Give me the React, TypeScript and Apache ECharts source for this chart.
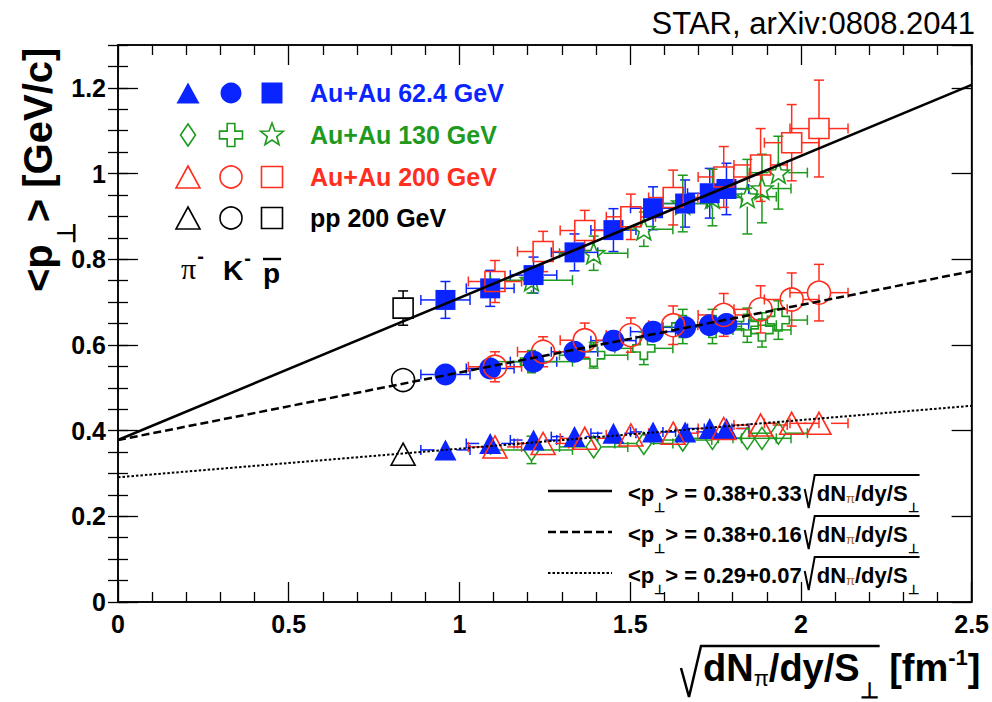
import React, { useEffect, useRef } from "react";
import * as echarts from "echarts";

// ---------- colours / fonts ----------
const BLUE = "#0a24ff";
const GREEN = "#1e9a1e";
const RED = "#ff2e1e";
const BLACK = "#000000";
const FONT = "'Liberation Sans', Arial, Helvetica, sans-serif";
const SERIF = "'Liberation Serif', 'DejaVu Serif', serif";

// ---------- data: x = sqrt(dN_pi/dy / S_perp) [fm^-1] ----------
const x624 = [0.959, 1.09, 1.217, 1.337, 1.451, 1.567, 1.661, 1.733, 1.782];
const x130 = [1.211, 1.393, 1.54, 1.654, 1.741, 1.843, 1.886, 1.934];
const x200 = [1.104, 1.245, 1.367, 1.502, 1.626, 1.774, 1.882, 1.973, 2.053];
const xPP = [0.835];

const xErr624 = [0.072, 0.07, 0.068, 0.068, 0.066, 0.066, 0.065, 0.065, 0.065];
const xErr130 = [0.12, 0.1, 0.085, 0.085, 0.085, 0.085, 0.085, 0.085];
const xErr200 = [0.078, 0.075, 0.072, 0.072, 0.072, 0.075, 0.078, 0.08, 0.085];
const xErrPP = [0];

// pi-  <pT> [GeV/c]
const piY624 = [0.355, 0.37, 0.378, 0.386, 0.394, 0.397, 0.397, 0.405, 0.405];
const piY130 = [0.355, 0.362, 0.37, 0.378, 0.382, 0.382, 0.382, 0.394];
const piY200 = [0.362, 0.37, 0.382, 0.39, 0.394, 0.405, 0.413, 0.417, 0.417];
const piYPP = [0.345];
const piE624 = [0.01, 0.01, 0.01, 0.01, 0.01, 0.01, 0.01, 0.01, 0.01];
const piE130 = [0.032, 0.02, 0.02, 0.02, 0.02, 0.02, 0.02, 0.02];
const piE200 = [0.012, 0.012, 0.012, 0.012, 0.012, 0.012, 0.012, 0.012, 0.012];
const piEPP = [0.01];

// K-
const kY624 = [0.531, 0.545, 0.561, 0.584, 0.61, 0.631, 0.641, 0.646, 0.649];
const kY130 = [0.561, 0.576, 0.592, 0.643, 0.643, 0.646, 0.635, 0.658];
const kY200 = [0.549, 0.584, 0.611, 0.623, 0.646, 0.67, 0.683, 0.706, 0.722];
const kYPP = [0.518];
const kE624 = [0.012, 0.012, 0.013, 0.014, 0.015, 0.016, 0.017, 0.017, 0.018];
const kE130 = [0.02, 0.03, 0.038, 0.04, 0.04, 0.04, 0.04, 0.045];
const kE200 = [0.035, 0.035, 0.04, 0.04, 0.045, 0.05, 0.055, 0.062, 0.066];
const kEPP = [0.015];

// anti-proton
const pY624 = [0.705, 0.732, 0.763, 0.816, 0.868, 0.919, 0.93, 0.954, 0.964];
const pY130 = [0.751, 0.814, 0.87, 0.93, 0.944, 0.946, 0.965, 1.002];
const pY200 = [0.748, 0.818, 0.867, 0.899, 0.944, 0.992, 1.02, 1.072, 1.105];
const pYPP = [0.686];
const pE624 = [0.043, 0.042, 0.042, 0.043, 0.05, 0.05, 0.055, 0.058, 0.06];
const pE130 = [0.03, 0.04, 0.04, 0.066, 0.066, 0.087, 0.08, 0.085];
const pE200 = [0.049, 0.047, 0.047, 0.053, 0.064, 0.071, 0.085, 0.089, 0.113];
const pEPP = [0.04];

// fit lines (end points)
const fitX = [0, 2.5];
const fitSolid = [0.378, 1.207];
const fitDashed = [0.378, 0.772];
const fitDotted = [0.291, 0.458];

const fitLabels = [
  { a: "0.38", b: "0.33", dash: [] as number[], w: 2.5 },
  { a: "0.38", b: "0.16", dash: [8, 4], w: 2.5 },
  { a: "0.29", b: "0.07", dash: [2.5, 2], w: 2 },
];

const legendRows = [
  { label: "Au+Au 62.4 GeV", color: BLUE, filled: true, kind: "624" },
  { label: "Au+Au 130 GeV", color: GREEN, filled: false, kind: "130" },
  { label: "Au+Au 200 GeV", color: RED, filled: false, kind: "200" },
  { label: "pp 200 GeV", color: BLACK, filled: false, kind: "pp" },
];

// ---------- symbol shapes ----------
const starPts = (cx: number, cy: number, R: number, r: number) =>
  Array.from({ length: 10 }, (_, k) => {
    const ang = -Math.PI / 2 + (k * Math.PI) / 5;
    const rr = k % 2 === 0 ? R : r;
    return [cx + rr * Math.cos(ang), cy + rr * Math.sin(ang)];
  });
const crossPts = (cx: number, cy: number, s: number) => {
  const a = s / 2;
  const b = s / 6;
  return [
    [cx - b, cy - a], [cx + b, cy - a], [cx + b, cy - b], [cx + a, cy - b],
    [cx + a, cy + b], [cx + b, cy + b], [cx + b, cy + a], [cx - b, cy + a],
    [cx - b, cy + b], [cx - a, cy + b], [cx - a, cy - b], [cx - b, cy - b],
  ];
};
const toPath = (pts: number[][]) =>
  "path://M" + pts.map((p) => `${p[0].toFixed(2)},${p[1].toFixed(2)}`).join("L") + "Z";
const STAR_SYM = toPath(starPts(50, 50, 50, 21));
const CROSS_SYM = toPath(crossPts(50, 50, 100));

// ---------- text measuring ----------
let _ctx: CanvasRenderingContext2D | null = null;
function tw(text: string, size: number, weight: string, family: string) {
  if (!_ctx) _ctx = document.createElement("canvas").getContext("2d");
  if (!_ctx) return text.length * size * 0.55;
  _ctx.font = `${weight} ${size}px ${family}`;
  return _ctx.measureText(text).width;
}
type Piece = { t: string; size: number; weight?: string; family?: string; dy?: number; dx?: number; color?: string };
function chain(pieces: Piece[], x0: number, y0: number, color = BLACK) {
  let x = x0;
  const els: any[] = [];
  for (const p of pieces) {
    const weight = p.weight ?? "bold";
    const family = p.family ?? FONT;
    x += p.dx ?? 0;
    els.push({
      type: "text",
      x,
      y: y0 + (p.dy ?? 0),
      silent: true,
      style: {
        text: p.t,
        fill: p.color ?? color,
        fontSize: p.size,
        fontWeight: weight,
        fontFamily: family,
        align: "left",
        verticalAlign: "middle",
      },
    });
    x += tw(p.t, p.size, weight, family);
  }
  return { els, end: x };
}

// ---------- error bars ----------
function mkRender(color: string, gx: number, gy: number) {
  return (_params: any, api: any) => {
    const x = api.value(0);
    const y = api.value(1);
    const c = api.coord([x, y]);
    const xl = api.coord([api.value(2), y])[0];
    const xr = api.coord([api.value(3), y])[0];
    const yl = api.coord([x, api.value(4)])[1];
    const yh = api.coord([x, api.value(5)])[1];
    const st = { stroke: color, lineWidth: 1.5 };
    const cap = 5;
    const ch: any[] = [];
    const ln = (x1: number, y1: number, x2: number, y2: number) =>
      ch.push({ type: "line", shape: { x1, y1, x2, y2 }, style: st });
    if (c[0] - xl > gx) {
      ln(xl, c[1], c[0] - gx, c[1]);
      ln(xl, c[1] - cap, xl, c[1] + cap);
    }
    if (xr - c[0] > gx) {
      ln(c[0] + gx, c[1], xr, c[1]);
      ln(xr, c[1] - cap, xr, c[1] + cap);
    }
    if (yl - c[1] > gy) {
      ln(c[0], c[1] + gy, c[0], yl);
      ln(c[0] - cap, yl, c[0] + cap, yl);
    }
    if (c[1] - yh > gy) {
      ln(c[0], yh, c[0], c[1] - gy);
      ln(c[0] - cap, yh, c[0] + cap, yh);
    }
    return { type: "group", children: ch };
  };
}
function eb(xs: number[], xe: number[], ys: number[], ye: number[], color: string, gx: number, gy: number) {
  return {
    type: "custom",
    silent: true,
    z: 2,
    data: xs.map((x, i) => [x, ys[i], x - xe[i], x + xe[i], ys[i] - ye[i], ys[i] + ye[i]]),
    encode: { x: [0, 2, 3], y: [1, 4, 5] },
    renderItem: mkRender(color, gx, gy),
  };
}
function sc(xs: number[], ys: number[], symbol: string, size: any, color: string, filled: boolean) {
  return {
    type: "scatter",
    silent: true,
    z: 3,
    symbol,
    symbolSize: size,
    data: xs.map((x, i) => [x, ys[i]]),
    itemStyle: filled
      ? { color, borderWidth: 0, opacity: 1 }
      : { color: "rgba(0,0,0,0)", borderColor: color, borderWidth: 1.6, opacity: 1 },
  };
}

// ---------- legend graphics ----------
function legendMarker(kind: string, col: number, cx: number, cy: number, color: string, filled: boolean): any {
  const style = filled ? { fill: color, stroke: color, lineWidth: 0 } : { fill: "none", stroke: color, lineWidth: 1.6 };
  if (kind === "130") {
    if (col === 0) return { type: "polygon", shape: { points: [[cx, cy - 11], [cx + 7.5, cy], [cx, cy + 11], [cx - 7.5, cy]] }, style };
    if (col === 1) return { type: "polygon", shape: { points: crossPts(cx, cy, 23) }, style };
    return { type: "polygon", shape: { points: starPts(cx, cy, 12, 5) }, style };
  }
  const s = filled ? 21 : 22;
  if (col === 0) return { type: "polygon", shape: { points: [[cx, cy - s / 2], [cx + s / 2 + 1, cy + s / 2], [cx - s / 2 - 1, cy + s / 2]] }, style };
  if (col === 1) return { type: "circle", shape: { cx, cy, r: s / 2 }, style };
  return { type: "rect", shape: { x: cx - 10.5, y: cy - 10.5, width: 21, height: 21 }, style };
}

function buildGraphics() {
  const g: any[] = [];
  const cols = [188, 231, 272];
  const rows = [93, 135, 177, 218];
  legendRows.forEach((r, ri) => {
    cols.forEach((cx, ci) => g.push({ ...legendMarker(r.kind, ci, cx, rows[ri], r.color, r.filled), silent: true }));
    g.push({
      type: "text",
      x: 310,
      y: rows[ri],
      silent: true,
      style: { text: r.label, fill: r.color, fontSize: 25, fontWeight: "bold", fontFamily: FONT, align: "left", verticalAlign: "middle" },
    });
  });
  // particle labels
  g.push(...chain([{ t: "π", size: 30, weight: "normal", family: SERIF }, { t: "-", size: 20, dy: -12, dx: 1 }], 181, 268).els);
  g.push(...chain([{ t: "K", size: 28 }, { t: "-", size: 20, dy: -12, dx: 1 }], 223, 270).els);
  const pb = chain([{ t: "p", size: 28 }], 263, 273);
  g.push(...pb.els);
  g.push({ type: "line", silent: true, shape: { x1: 263, y1: 259, x2: pb.end + 1, y2: 259 }, style: { stroke: BLACK, lineWidth: 2.4 } });

  // fit legend
  const fy = [491, 532, 573];
  fitLabels.forEach((f, i) => {
    const y = fy[i];
    g.push({
      type: "line",
      silent: true,
      shape: { x1: 548, y1: y, x2: 612, y2: y },
      style: { stroke: BLACK, lineWidth: f.w, lineDash: f.dash.length ? f.dash : null },
    });
    const yc = y + 2;
    const a = chain(
      [
        { t: "<p", size: 22 },
        { t: "⊥", size: 13, dy: 14 },
        { t: `> = ${f.a}+${f.b}`, size: 22 },
      ],
      628,
      yc
    );
    g.push(...a.els);
    const rx = a.end + 3;
    const b = chain(
      [
        { t: "dN", size: 22 },
        { t: "π", size: 13, weight: "normal", dy: 5, color: "#a06020" },
        { t: "/dy/S", size: 22 },
        { t: "⊥", size: 13, dy: 14 },
      ],
      rx + 12,
      yc
    );
    g.push(...b.els);
    g.push({
      type: "polyline",
      silent: true,
      shape: { points: [[rx, yc - 4], [rx + 4, yc + 15], [rx + 10, yc - 18], [b.end + 1, yc - 18]] },
      style: { stroke: BLACK, lineWidth: 2, fill: "none" },
    });
  });

  // x-axis title
  const xt = chain(
    [
      { t: "dN", size: 38 },
      { t: "π", size: 22, weight: "normal", dy: 10 },
      { t: "/dy/S", size: 38 },
      { t: "⊥", size: 22, dy: 22 },
    ],
    703,
    668
  );
  g.push(...xt.els);
  g.push({
    type: "polyline",
    silent: true,
    shape: { points: [[681, 668], [689, 697], [701, 646], [xt.end + 1, 646]] },
    style: { stroke: BLACK, lineWidth: 2.5, fill: "none" },
  });
  g.push(
    ...chain(
      [
        { t: " [fm", size: 38 },
        { t: "-1", size: 22, dy: -11 },
        { t: "]", size: 38 },
      ],
      xt.end,
      668
    ).els
  );

  // y-axis title (rotated)
  const yt = chain(
    [
      { t: "<p", size: 40 },
      { t: "⊥", size: 25, dy: 28 },
      { t: "> [GeV/c]", size: 40 },
    ],
    0,
    0
  );
  g.push({ type: "group", x: 38, y: 292, rotation: Math.PI / 2, children: yt.els, silent: true });

  // corner label
  g.push({
    type: "text",
    x: 975,
    y: 23,
    silent: true,
    style: { text: "STAR, arXiv:0808.2041", fill: BLACK, fontSize: 31, fontWeight: "normal", fontFamily: FONT, align: "right", verticalAlign: "middle" },
  });
  return g;
}

function buildOption() {
  const tickStyle = { color: BLACK, width: 1.3 };
  const labelStyle = { fontSize: 25, fontWeight: "bold", fontFamily: FONT, color: BLACK };
  const fitSeries = (ys: number[], type: any, width: number, dash?: number[]) => ({
    type: "line",
    silent: true,
    z: 4,
    symbol: "none",
    showSymbol: false,
    data: fitX.map((x, i) => [x, ys[i]]),
    lineStyle: { color: BLACK, width, type: dash ?? type },
  });
  return {
    animation: false,
    backgroundColor: "#ffffff",
    grid: { left: 118, right: 17, top: 45, bottom: 100, show: true, borderColor: BLACK, borderWidth: 1.5, backgroundColor: "rgba(0,0,0,0)" },
    xAxis: [
      {
        type: "value", min: 0, max: 2.5, interval: 0.5, position: "bottom",
        axisLine: { show: true, onZero: false, lineStyle: { color: BLACK, width: 1.5 } },
        axisTick: { show: true, inside: true, length: 20, lineStyle: tickStyle },
        minorTick: { show: true, splitNumber: 5, length: 10, lineStyle: tickStyle },
        splitLine: { show: false }, minorSplitLine: { show: false },
        axisLabel: { ...labelStyle, margin: 9 },
      },
      {
        type: "value", min: 0, max: 2.5, interval: 0.5, position: "top",
        axisLine: { show: true, onZero: false, lineStyle: { color: BLACK, width: 1.5 } },
        axisTick: { show: true, inside: true, length: 20, lineStyle: tickStyle },
        minorTick: { show: true, splitNumber: 5, length: 10, lineStyle: tickStyle },
        splitLine: { show: false }, axisLabel: { show: false },
      },
    ],
    yAxis: [
      {
        type: "value", min: 0, max: 1.3, interval: 0.2, position: "left",
        axisLine: { show: true, onZero: false, lineStyle: { color: BLACK, width: 1.5 } },
        axisTick: { show: true, inside: true, length: 20, lineStyle: tickStyle },
        splitLine: { show: false },
        axisLabel: { ...labelStyle, margin: 12, showMaxLabel: false },
      },
      {
        type: "value", min: 0, max: 1.3, interval: 0.05, position: "left",
        axisLine: { show: false },
        axisTick: { show: true, inside: true, length: 10, lineStyle: tickStyle },
        splitLine: { show: false }, axisLabel: { show: false },
      },
      {
        type: "value", min: 0, max: 1.3, interval: 0.2, position: "right",
        axisLine: { show: true, onZero: false, lineStyle: { color: BLACK, width: 1.5 } },
        axisTick: { show: true, inside: true, length: 20, lineStyle: tickStyle },
        splitLine: { show: false }, axisLabel: { show: false },
      },
      {
        type: "value", min: 0, max: 1.3, interval: 0.05, position: "right",
        axisLine: { show: false },
        axisTick: { show: true, inside: true, length: 10, lineStyle: tickStyle },
        splitLine: { show: false }, axisLabel: { show: false },
      },
    ],
    series: [
      // error bars
      eb(x624, xErr624, piY624, piE624, BLUE, 11, 10),
      eb(x624, xErr624, kY624, kE624, BLUE, 11, 11),
      eb(x624, xErr624, pY624, pE624, BLUE, 10, 10),
      eb(x130, xErr130, piY130, piE130, GREEN, 8, 11),
      eb(x130, xErr130, kY130, kE130, GREEN, 11, 11),
      eb(x130, xErr130, pY130, pE130, GREEN, 10, 10),
      eb(x200, xErr200, piY200, piE200, RED, 12, 11),
      eb(x200, xErr200, kY200, kE200, RED, 12, 12),
      eb(x200, xErr200, pY200, pE200, RED, 10, 10),
      eb(xPP, xErrPP, piYPP, piEPP, BLACK, 12, 11),
      eb(xPP, xErrPP, kYPP, kEPP, BLACK, 12, 12),
      eb(xPP, xErrPP, pYPP, pEPP, BLACK, 10, 10),
      // markers
      sc(x130, piY130, "diamond", [15, 22], GREEN, false),
      sc(x130, kY130, CROSS_SYM, [22, 22], GREEN, false),
      sc(x130, pY130, STAR_SYM, [22, 21], GREEN, false),
      sc(x624, piY624, "triangle", [22, 21], BLUE, true),
      sc(x624, kY624, "circle", 22, BLUE, true),
      sc(x624, pY624, "rect", 20, BLUE, true),
      sc(x200, piY200, "triangle", [24, 22], RED, false),
      sc(x200, kY200, "circle", 23, RED, false),
      sc(x200, pY200, "rect", 20, RED, false),
      sc(xPP, piYPP, "triangle", [24, 22], BLACK, false),
      sc(xPP, kYPP, "circle", 23, BLACK, false),
      sc(xPP, pYPP, "rect", 20, BLACK, false),
      // fits
      fitSeries(fitSolid, "solid", 2.6),
      fitSeries(fitDashed, "dashed", 2.5, [8, 4]),
      fitSeries(fitDotted, "dotted", 2, [2.5, 2]),
    ],
    graphic: buildGraphics(),
  };
}

export default function App() {
  const ref = useRef<HTMLDivElement>(null);
  useEffect(() => {
    if (!ref.current) return;
    const chart = echarts.init(ref.current, undefined, { renderer: "svg" });
    chart.setOption(buildOption() as any);
    return () => chart.dispose();
  }, []);
  return <div ref={ref} style={{ width: 992, height: 702, position: "absolute", left: 0, top: 0, background: "#fff" }} />;
}
